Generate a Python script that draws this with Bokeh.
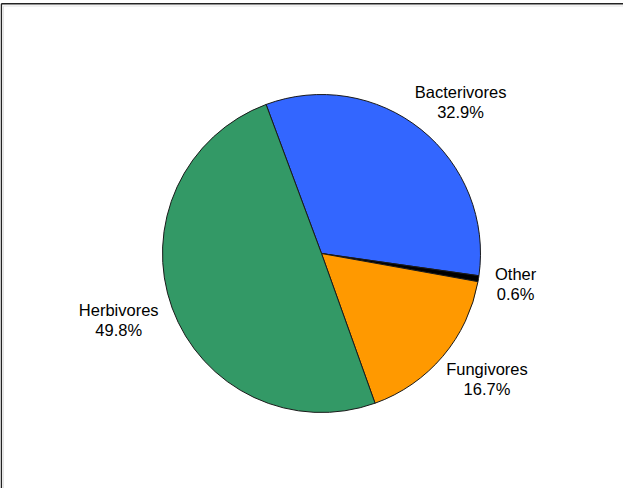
import math
from bokeh.plotting import figure
from bokeh.models import Range1d, ColumnDataSource
from bokeh.core.properties import value
from bokeh.embed import file_html
from bokeh.resources import INLINE

# ---- data ----
categories = ["Bacterivores", "Other", "Fungivores", "Herbivores"]
percents = [32.9, 0.6, 16.7, 49.8]
colors = ["#3366FF", "#000000", "#FF9900", "#339966"]

# ---- layout / style ----
W, H = 623, 488
CX, CY, R = 321, 235, 159
START_DEG = 110.4
LABEL_R = 176
FONT_PX = 16.5
LINE_H = 1.12

# approximate Arial advance widths (per 1000 em) for label box estimation
ARIAL_W = {"B": 667, "a": 556, "c": 500, "t": 278, "e": 556, "r": 333, "i": 222,
           "v": 500, "o": 556, "s": 500, "O": 778, "h": 556, "F": 611, "u": 556,
           "n": 556, "g": 556, "H": 722, "b": 556, ".": 278, "%": 889}


def text_width(s):
    return sum(ARIAL_W.get(ch, 556) for ch in s) * FONT_PX / 1000.0


total = sum(percents)
starts, ends, mids = [], [], []
a = math.radians(START_DEG)
for v in percents:
    sweep = 2 * math.pi * v / total
    starts.append(a)
    ends.append(a - sweep)
    mids.append(a - sweep / 2)
    a -= sweep

texts, lx, ly = [], [], []
for cat, pct, m in zip(categories, percents, mids):
    t = f"{cat}\n{pct:.1f}%"
    texts.append(t)
    w = max(text_width(s) for s in t.split("\n"))
    h = 2 * FONT_PX * LINE_H
    c, s = math.cos(m), math.sin(m)
    lx.append(CX + LABEL_R * c + w / 2 * c)
    ly.append(CY + LABEL_R * s + h / 2 * s)

p = figure(width=W, height=H, output_backend="svg", toolbar_location=None,
           x_range=Range1d(0, W), y_range=Range1d(0, H),
           x_axis_location=None, y_axis_location=None, min_border=0)
p.grid.visible = False
p.outline_line_color = None
p.background_fill_color = "white"
p.border_fill_color = "white"

# frame lines (only top and left visible in reference)
p.line(x=[0.8, W], y=[H - 3.3, H - 3.3], line_color="#222222", line_width=1.6)
p.line(x=[0.8, 0.8], y=[0, H - 3.3], line_color="#222222", line_width=1.6)
p.line(x=[3, W], y=[H - 5.5, H - 5.5], line_color="#e4e4e4", line_width=1)
p.line(x=[3, 3], y=[0, H - 5.5], line_color="#e4e4e4", line_width=1)

src = ColumnDataSource(dict(start=ends, end=starts, color=colors, cat=categories))
p.wedge(x=CX, y=CY, radius=R, start_angle="start", end_angle="end",
        direction="anticlock", fill_color="color", line_color="#1a1a1a",
        line_width=1, source=src)

p.text(x=lx, y=ly, text=texts, text_font=value("Liberation Sans"),
       text_font_size=f"{FONT_PX}px", text_align="center",
       text_baseline="middle", text_line_height=LINE_H, text_color="#000000")

open("out.html", "w").write(file_html(p, INLINE))
